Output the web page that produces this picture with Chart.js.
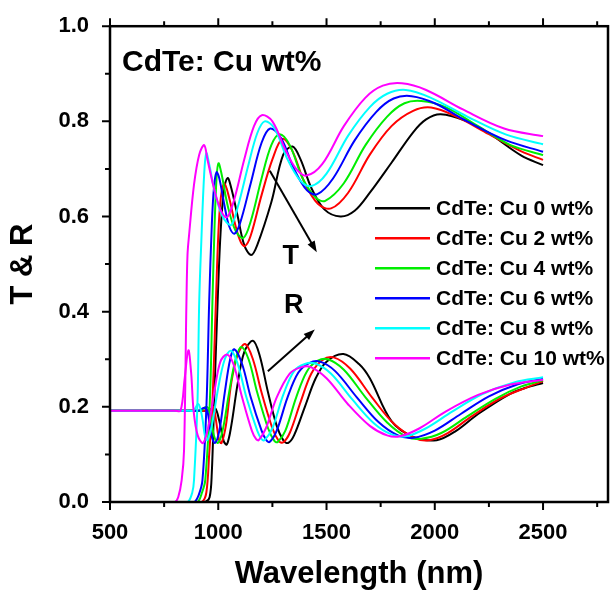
<!DOCTYPE html>
<html>
<head>
<meta charset="utf-8">
<script src="https://cdn.jsdelivr.net/npm/chart.js@4.4.0/dist/chart.umd.min.js"></script>
<style>
  html, body { margin: 0; padding: 0; background: #fff; }
  #c { display: block; }
</style>
</head>
<body>
<canvas id="c" width="610" height="593"></canvas>
<script>
// series names
const labels = ['CdTe: Cu 0 wt%', 'CdTe: Cu 2 wt%', 'CdTe: Cu 4 wt%', 'CdTe: Cu 6 wt%', 'CdTe: Cu 8 wt%', 'CdTe: Cu 10 wt%'];

// axis ticks
const xMajor = [500, 1000, 1500, 2000, 2500];
const xMinor = [750, 1250, 1750, 2250, 2750];
const yMajor = [0, 0.2, 0.4, 0.6, 0.8, 1.0];
const yMinor = [0.1, 0.3, 0.5, 0.7, 0.9];

// transmittance, [wavelength nm, T]
const T0 = [[500,0],[900,0],[940,0],[960,0.01],[970,0.06],[981,0.21],[997,0.42],[1010,0.56],[1025,0.65],[1043,0.681],[1060,0.66],[1090,0.6],[1120,0.54],[1152,0.519],[1180,0.54],[1245,0.63],[1300,0.73],[1343,0.747],[1380,0.72],[1430,0.66],[1490,0.615],[1564,0.6],[1630,0.612],[1700,0.65],[1800,0.713],[1900,0.777],[1960,0.804],[2027,0.815],[2150,0.8],[2250,0.775],[2400,0.728],[2500,0.708]];
const T2 = [[500,0],[890,0],[925,0],[945,0.02],[958,0.1],[973,0.21],[989,0.42],[1000,0.56],[1012,0.64],[1028,0.67],[1050,0.64],[1080,0.58],[1105,0.545],[1124,0.538],[1150,0.56],[1200,0.645],[1250,0.72],[1296,0.763],[1340,0.74],[1400,0.67],[1460,0.627],[1521,0.617],[1600,0.65],[1700,0.73],[1800,0.79],[1900,0.822],[1983,0.829],[2100,0.81],[2250,0.773],[2400,0.737],[2500,0.719]];
const T4 = [[500,0],[870,0],[905,0],[925,0.02],[940,0.046],[961,0.21],[973,0.42],[983,0.58],[992,0.68],[1001,0.712],[1015,0.69],[1045,0.62],[1080,0.57],[1116,0.555],[1150,0.59],[1200,0.68],[1245,0.75],[1284,0.773],[1330,0.75],[1390,0.68],[1450,0.64],[1494,0.633],[1580,0.67],[1680,0.75],[1780,0.81],[1860,0.838],[1938,0.843],[2050,0.83],[2200,0.79],[2350,0.75],[2500,0.729]];
const T6 = [[500,0],[860,0],[890,0],[910,0.015],[927,0.046],[946,0.21],[958,0.42],[970,0.58],[980,0.66],[992,0.693],[1005,0.68],[1030,0.62],[1050,0.58],[1074,0.564],[1100,0.585],[1150,0.67],[1200,0.755],[1240,0.785],[1290,0.765],[1350,0.7],[1410,0.655],[1458,0.647],[1530,0.68],[1630,0.76],[1730,0.82],[1810,0.848],[1893,0.853],[2000,0.838],[2150,0.8],[2330,0.76],[2500,0.736]];
const T8 = [[500,0],[830,0],[860,0],[880,0.02],[888,0.046],[904,0.21],[912,0.42],[922,0.55],[935,0.69],[945,0.733],[958,0.71],[985,0.65],[1020,0.6],[1059,0.582],[1090,0.62],[1140,0.71],[1180,0.775],[1214,0.8],[1260,0.785],[1320,0.72],[1380,0.675],[1431,0.664],[1500,0.69],[1600,0.77],[1700,0.83],[1780,0.858],[1866,0.866],[1980,0.85],[2150,0.81],[2330,0.772],[2500,0.752]];
const T10 = [[500,0],[780,0],[800,0],[815,0.01],[831,0.046],[842,0.109],[853,0.42],[858,0.52],[865,0.56],[888,0.667],[912,0.73],[935,0.75],[950,0.72],[980,0.66],[1010,0.615],[1039,0.598],[1070,0.63],[1120,0.72],[1165,0.79],[1201,0.813],[1250,0.8],[1310,0.74],[1360,0.7],[1407,0.686],[1480,0.71],[1580,0.79],[1680,0.85],[1760,0.875],[1848,0.88],[1960,0.866],[2130,0.825],[2320,0.785],[2500,0.769]];

// reflectance, [wavelength nm, R]
const R0 = [[500,0.192],[900,0.192],[940,0.192],[960,0.193],[985,0.198],[1005,0.17],[1025,0.128],[1040,0.121],[1060,0.16],[1090,0.25],[1120,0.315],[1160,0.339],[1190,0.31],[1230,0.23],[1270,0.16],[1300,0.13],[1322,0.124],[1350,0.14],[1400,0.2],[1450,0.26],[1500,0.295],[1578,0.311],[1650,0.29],[1700,0.26],[1800,0.17],[1900,0.137],[2009,0.13],[2100,0.15],[2200,0.185],[2350,0.228],[2420,0.24],[2500,0.25]];
const R2 = [[500,0.192],[900,0.192],[930,0.192],[965,0.195],[978,0.2],[990,0.17],[1005,0.128],[1015,0.124],[1035,0.16],[1060,0.25],[1090,0.31],[1124,0.332],[1160,0.3],[1200,0.23],[1250,0.155],[1280,0.128],[1299,0.125],[1330,0.145],[1380,0.21],[1430,0.27],[1480,0.298],[1533,0.304],[1610,0.28],[1710,0.22],[1810,0.165],[1910,0.134],[1974,0.13],[2060,0.145],[2170,0.18],[2300,0.217],[2420,0.24],[2500,0.254]];
const R4 = [[500,0.192],[890,0.192],[920,0.192],[945,0.2],[960,0.19],[980,0.14],[998,0.124],[1020,0.15],[1050,0.23],[1080,0.3],[1106,0.326],[1140,0.3],[1180,0.23],[1230,0.155],[1260,0.128],[1275,0.126],[1310,0.15],[1360,0.22],[1410,0.275],[1460,0.297],[1506,0.3],[1580,0.278],[1680,0.22],[1780,0.167],[1870,0.137],[1938,0.133],[2030,0.145],[2150,0.18],[2280,0.217],[2400,0.243],[2500,0.256]];
const R6 = [[500,0.192],[880,0.192],[910,0.192],[935,0.198],[950,0.19],[968,0.14],[985,0.124],[1005,0.15],[1030,0.23],[1055,0.3],[1074,0.321],[1110,0.29],[1150,0.22],[1200,0.15],[1222,0.13],[1237,0.126],[1270,0.15],[1320,0.22],[1370,0.272],[1420,0.292],[1470,0.295],[1540,0.275],[1640,0.22],[1740,0.168],[1830,0.14],[1902,0.135],[2000,0.15],[2120,0.185],[2250,0.222],[2380,0.247],[2500,0.259]];
const R8 = [[500,0.192],[860,0.192],[885,0.192],[908,0.206],[925,0.18],[940,0.135],[950,0.13],[970,0.16],[1000,0.24],[1030,0.3],[1059,0.318],[1090,0.29],[1130,0.22],[1180,0.15],[1200,0.132],[1214,0.13],[1250,0.155],[1300,0.225],[1350,0.275],[1400,0.29],[1447,0.291],[1520,0.27],[1620,0.215],[1720,0.165],[1800,0.142],[1866,0.138],[1960,0.155],[2080,0.19],[2220,0.227],[2370,0.252],[2500,0.262]];
const R10 = [[500,0.192],[800,0.192],[826,0.192],[845,0.26],[862,0.319],[875,0.27],[886,0.192],[905,0.14],[930,0.124],[955,0.16],[985,0.24],[1010,0.295],[1040,0.31],[1070,0.29],[1110,0.22],[1155,0.15],[1175,0.132],[1187,0.13],[1220,0.155],[1270,0.22],[1330,0.27],[1380,0.283],[1425,0.284],[1500,0.26],[1600,0.205],[1700,0.16],[1780,0.14],[1839,0.138],[1930,0.155],[2050,0.19],[2200,0.225],[2350,0.247],[2500,0.257]];

const Tseries = [T0, T2, T4, T6, T8, T10];
const Rseries = [R0, R2, R4, R6, R8, R10];

const lineColors = ['#000000', '#ff0000', '#00ee00', '#0000ff', '#00ffff', '#ff00ff'];
const FONT = '"Liberation Sans", Arial, sans-serif';

// arrows and letters, in data coordinates
const arrowT = [[1238, 0.696], [1455, 0.525]];
const arrowR = [[1229, 0.275], [1446, 0.3625]];
const letterT = [1335, 0.515];
const letterR = [1349, 0.4125];

const datasets = [];
Tseries.forEach((s, i) => datasets.push({
  label: labels[i], kind: 'T', data: s.map(p => ({x: p[0], y: p[1]})),
  borderColor: lineColors[i], order: -i
}));
Rseries.forEach((s, i) => datasets.push({
  label: labels[i] + ' R', kind: 'R', data: s.map(p => ({x: p[0], y: p[1]})),
  borderColor: lineColors[i], order: -i
}));

function toTicks(a, b) {
  return a.concat(b).sort((p, q) => p - q).map(v => ({value: v}));
}

const frame = {
  id: 'frame',
  afterDraw(chart) {
    const {ctx, chartArea: a, scales: {x, y}} = chart;
    ctx.save();
    ctx.strokeStyle = '#000';
    ctx.lineWidth = 2.5;
    ctx.strokeRect(a.left, a.top, a.right - a.left, a.bottom - a.top);
    ctx.lineWidth = 2;
    ctx.beginPath();
    const xt = (vals, len) => vals.forEach(v => {
      const p = x.getPixelForValue(v);
      ctx.moveTo(p, a.bottom); ctx.lineTo(p, a.bottom + len);
      ctx.moveTo(p, a.top); ctx.lineTo(p, a.top - len);
    });
    const yt = (vals, len) => vals.forEach(v => {
      const p = y.getPixelForValue(v);
      ctx.moveTo(a.left, p); ctx.lineTo(a.left - len, p);
    });
    xt(xMajor, 8); xt(xMinor, 5); yt(yMajor, 8); yt(yMinor, 5);
    ctx.stroke();

    // arrows
    const arrow = (pts) => {
      const x0 = x.getPixelForValue(pts[0][0]), y0 = y.getPixelForValue(pts[0][1]);
      const x1 = x.getPixelForValue(pts[1][0]), y1 = y.getPixelForValue(pts[1][1]);
      const ang = Math.atan2(y1 - y0, x1 - x0);
      ctx.lineWidth = 2;
      ctx.beginPath(); ctx.moveTo(x0, y0); ctx.lineTo(x1 - 6 * Math.cos(ang), y1 - 6 * Math.sin(ang)); ctx.stroke();
      ctx.beginPath();
      ctx.moveTo(x1, y1);
      ctx.lineTo(x1 - 12 * Math.cos(ang - 0.35), y1 - 12 * Math.sin(ang - 0.35));
      ctx.lineTo(x1 - 12 * Math.cos(ang + 0.35), y1 - 12 * Math.sin(ang + 0.35));
      ctx.closePath();
      ctx.fillStyle = '#000';
      ctx.fill();
    };
    arrow(arrowT);
    arrow(arrowR);

    ctx.fillStyle = '#000';
    ctx.textAlign = 'center';
    ctx.textBaseline = 'middle';
    ctx.font = 'bold 27px ' + FONT;
    ctx.fillText('T', x.getPixelForValue(letterT[0]), y.getPixelForValue(letterT[1]));
    ctx.fillText('R', x.getPixelForValue(letterR[0]), y.getPixelForValue(letterR[1]));

    // panel label
    ctx.textAlign = 'left';
    ctx.textBaseline = 'alphabetic';
    ctx.font = 'bold 30px ' + FONT;
    ctx.fillText('CdTe: Cu wt%', a.left + 12, a.top + 45);

    // legend
    ctx.font = 'bold 21px ' + FONT;
    ctx.textBaseline = 'middle';
    chart.data.datasets.filter(d => d.kind === 'T').forEach((d, i) => {
      const yy = a.top + 182 + i * 30;
      ctx.strokeStyle = d.borderColor;
      ctx.lineWidth = 2.5;
      ctx.beginPath(); ctx.moveTo(a.left + 265, yy); ctx.lineTo(a.left + 320, yy); ctx.stroke();
      ctx.fillText(d.label, a.left + 326, yy + 1);
    });
    ctx.restore();
  }
};

new Chart(document.getElementById('c'), {
  type: 'line',
  data: { datasets },
  options: {
    responsive: false,
    animation: false,
    layout: { padding: { top: 14, right: 2, left: 0, bottom: 0 } },
    elements: {
      point: { radius: 0 },
      line: { borderWidth: 2, tension: 0.35, fill: false }
    },
    plugins: { legend: { display: false }, tooltip: { enabled: false } },
    scales: {
      x: {
        type: 'linear', min: 500, max: 2800,
        afterBuildTicks: s => { s.ticks = toTicks(xMajor, xMinor); },
        afterFit: s => { s.height = 91; },
        grid: { display: false }, border: { display: false },
        ticks: {
          color: '#000', padding: 10, maxRotation: 0, autoSkip: false,
          font: { family: FONT, size: 22, weight: 'bold' },
          callback: v => xMajor.includes(v) ? String(v) : ''
        },
        title: {
          display: true, text: 'Wavelength (nm)', color: '#000',
          font: { family: FONT, size: 31, weight: 'bold' }, padding: { top: 0, bottom: 0 }
        }
      },
      y: {
        min: 0, max: 1.0,
        afterBuildTicks: s => { s.ticks = toTicks(yMajor, yMinor); },
        afterFit: s => { s.width = 110; },
        grid: { display: false }, border: { display: false },
        ticks: {
          color: '#000', padding: 13, autoSkip: false,
          font: { family: FONT, size: 22, weight: 'bold' },
          callback: v => yMajor.some(m => Math.abs(m - v) < 1e-9) ? v.toFixed(1) : ''
        },
        title: {
          display: true, text: 'T & R', color: '#000',
          font: { family: FONT, size: 31, weight: 'bold' }, padding: { top: 5, bottom: 0 }
        }
      }
    }
  },
  plugins: [frame]
});
</script>
</body>
</html>
